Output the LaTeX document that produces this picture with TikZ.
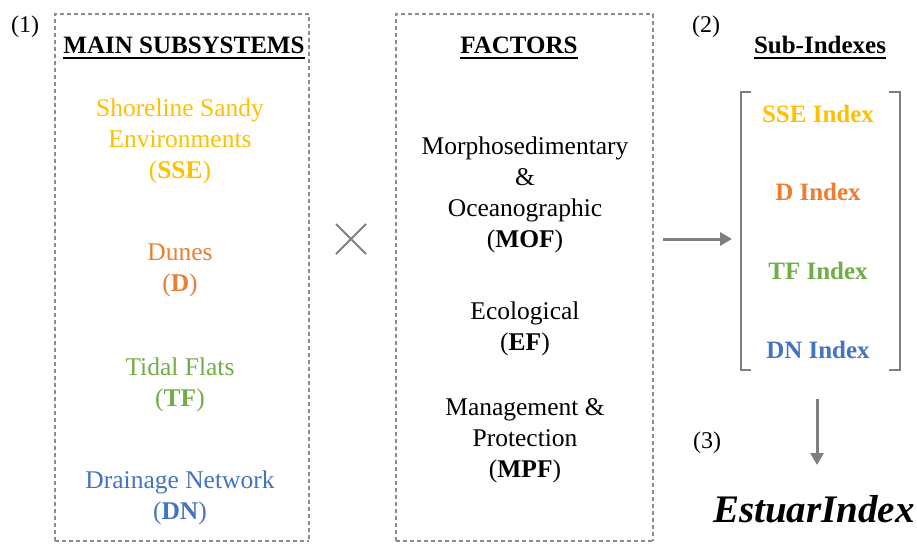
\documentclass[tikz,border=0pt]{standalone}
\usepackage{fontspec}
\setmainfont{Liberation Serif}
\usetikzlibrary{arrows.meta}
\definecolor{cyel}{HTML}{FFC000}
\definecolor{cora}{HTML}{ED7D31}
\definecolor{cgrn}{HTML}{70AD47}
\definecolor{cblu}{HTML}{4472C4}
\definecolor{cgry}{HTML}{7F7F7F}
\definecolor{cdash}{HTML}{8C8C8C}
\begin{document}
\begin{tikzpicture}[x=1pt,y=-1pt,
  txt/.style={font=\fontsize{25.5}{31}\selectfont, align=center, inner sep=0pt},
  hdr/.style={font=\fontsize{25}{31}\selectfont\bfseries, inner sep=0pt, anchor=base},
  lbl/.style={font=\fontsize{24}{30}\selectfont, inner sep=0pt, anchor=base},
  dbox/.style={draw=cdash, line width=1.1pt, dash pattern=on 4pt off 3pt},
  uline/.style={line width=1.8pt},
  garrow/.style={draw=cgry, line width=3pt, -{Triangle[length=12pt,width=13pt]}},
  brk/.style={draw=cgry, line width=1.8pt}]
\useasboundingbox (0,0) rectangle (917,544);
% dashed boxes
\draw[dbox] (55,541) -- (55,14) -- (309,14) -- (309,541);
\draw[dbox] (55,541) -- (309,541);
\draw[dbox] (396,541) -- (396,14) -- (653,14) -- (653,541);
\draw[dbox] (396,541) -- (653,541);
% labels
\node[lbl] (l1) at (25,32) {(1)};
\node[lbl] (l2) at (706,32) {(2)};
\node[lbl] (l3) at (707,448) {(3)};
% headers
\node[hdr] (h1) at (184,53) {MAIN SUBSYSTEMS};
\draw[uline] ([yshift=-5pt]h1.base west) -- ([yshift=-5pt]h1.base east);
\node[hdr] (h2) at (519,53) {FACTORS};
\draw[uline] ([yshift=-5pt]h2.base west) -- ([yshift=-5pt]h2.base east);
\node[hdr] (h3) at (820,53) {Sub-Indexes};
\draw[uline] ([yshift=-5pt]h3.base west) -- ([yshift=-5pt]h3.base east);
% subsystems
\node[txt, text=cyel] (sse) at (180,141) {Shoreline Sandy\\Environments\\(\textbf{SSE})};
\node[txt, text=cora] (dun) at (180,270) {Dunes\\(\textbf{D})};
\node[txt, text=cgrn] (tf) at (180,385) {Tidal Flats\\(\textbf{TF})};
\node[txt, text=cblu] (dn) at (180,498) {Drainage Network\\(\textbf{DN})};
% factors
\node[txt] (mof) at (525,195) {Morphosedimentary\\\&\\Oceanographic\\(\textbf{MOF})};
\node[txt] (ef) at (525,329) {Ecological\\(\textbf{EF})};
\node[txt] (mpf) at (525,441) {Management \&\\Protection\\(\textbf{MPF})};
% times sign
\coordinate (xc) at (351,239);
\draw[cgry, line width=2pt] ([shift={(-15,-15)}]xc) -- ([shift={(15,15)}]xc);
\draw[cgry, line width=2pt] ([shift={(-15,15)}]xc) -- ([shift={(15,-15)}]xc);
% bracket
\draw[brk] (751,92) -- (741,92) -- (741,370) -- (751,370);
\draw[brk] (889,92) -- (900,92) -- (900,370) -- (889,370);
% sub-indexes
\node[txt, font=\fontsize{25}{31}\selectfont\bfseries, text=cyel] (i1) at (818,114) {SSE Index};
\node[txt, font=\fontsize{25}{31}\selectfont\bfseries, text=cora] (i2) at (818,192) {D Index};
\node[txt, font=\fontsize{25}{31}\selectfont\bfseries, text=cgrn] (i3) at (818,271) {TF Index};
\node[txt, font=\fontsize{25}{31}\selectfont\bfseries, text=cblu] (i4) at (818,350) {DN Index};
% result
\node[inner sep=0pt, font=\fontsize{39}{45}\selectfont\bfseries\itshape] (est) at (814,509) {EstuarIndex};
% arrows
\coordinate (a1s) at (663,239);
\coordinate (a1e) at (732,239);
\draw[garrow] (a1s) -- (a1e);
\coordinate (a2s) at (817,399);
\coordinate (a2e) at (817,465);
\draw[garrow] (a2s) -- (a2e);
\end{tikzpicture}
\end{document}
